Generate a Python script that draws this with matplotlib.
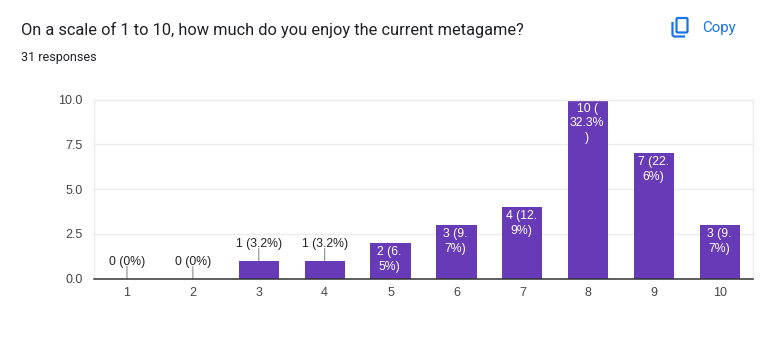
import matplotlib
matplotlib.use("Agg")
import matplotlib.pyplot as plt
from matplotlib.patches import FancyBboxPatch

W, H = 765, 353
categories = [1, 2, 3, 4, 5, 6, 7, 8, 9, 10]
values = [0, 0, 1, 1, 2, 3, 4, 10, 7, 3]
labels = ["0 (0%)", "0 (0%)", "1 (3.2%)", "1 (3.2%)", "2 (6.\n5%)", "3 (9.\n7%)",
          "4 (12.\n9%)", "10 (\n32.3%\n)", "7 (22.\n6%)", "3 (9.\n7%)"]
yticks = [0.0, 2.5, 5.0, 7.5, 10.0]
title = "On a scale of 1 to 10, how much do you enjoy the current metagame?"
subtitle = "31 responses"
PURPLE = "#673ab7"
BLUE = "#1a73e8"
ARIAL = "Liberation Sans"

fig = plt.figure(figsize=(W / 100, H / 100), dpi=100, facecolor="white")
ax = fig.add_axes([94 / W, 1 - 278.5 / H, 659 / W, 178.9 / H])
ax.set_xlim(0.5, 10.5)
ax.set_ylim(0, 10)
ax.set_axisbelow(True)
ax.bar(categories, values, width=0.61, color=PURPLE, zorder=2)

ax.set_yticks(yticks, [f"{t:.1f}" for t in yticks])
ax.set_xticks(categories, [str(c) for c in categories])
ax.tick_params(length=0, labelsize=9, labelcolor="#444444")
for l in ax.get_xticklabels() + ax.get_yticklabels():
    l.set_family(ARIAL)
ax.tick_params(axis="x", pad=6)
ax.tick_params(axis="y", pad=8)
ax.grid(axis="y", color="#ececec", lw=1)
ax.grid(axis="x", visible=False)
for s in ("top", "right", "left"):
    ax.spines[s].set_color("#ececec")
    ax.spines[s].set_linewidth(1)
ax.spines["bottom"].set_color("#333333")
ax.spines["bottom"].set_linewidth(1.1)
ax.spines["bottom"].set_zorder(4)

for c, v, lab in zip(categories, values, labels):
    if v <= 1:
        ax.annotate("", xy=(c, v), xytext=(0, 12), textcoords="offset pixels",
                    arrowprops=dict(arrowstyle="-", color="#999999", lw=0.9,
                                    shrinkA=0, shrinkB=0), zorder=3)
        ax.annotate(lab, xy=(c, v), xytext=(0, 11), textcoords="offset pixels",
                    ha="center", va="bottom", fontsize=8.8, family=ARIAL,
                    color="#222222")
    else:
        ax.annotate(lab, xy=(c, v), xytext=(-1, -3), textcoords="offset pixels",
                    ha="center", va="top", fontsize=8.8, family=ARIAL,
                    color="white", linespacing=1.32, zorder=5, clip_on=False)

fig.text(21 / W, 1 - 30 / H, title, family="Roboto", fontsize=11.8, color="#202124",
         ha="left", va="center")
fig.text(21 / W, 1 - 57 / H, subtitle, family="Roboto", fontsize=9, color="#202124",
         ha="left", va="center")
fig.text(702 / W, 1 - 28 / H, "Copy", family="Roboto", fontsize=10.8, color=BLUE,
         ha="left", va="center")

# copy icon, drawn in pixel coordinates
icon = fig.add_axes([0, 0, 1, 1], facecolor="none")
icon.set_xlim(0, W)
icon.set_ylim(H, 0)
icon.axis("off")
icon.add_patch(FancyBboxPatch((676.5, 18), 11, 14.5, boxstyle="round,pad=0,rounding_size=1.2",
                              fc="none", ec=BLUE, lw=1.6))
icon.plot([672.5, 672.5, 674, 685], [22, 35, 36.5, 36.5], color=BLUE, lw=1.6,
          solid_capstyle="butt")

fig.savefig("out.png", dpi=100, facecolor="white")
